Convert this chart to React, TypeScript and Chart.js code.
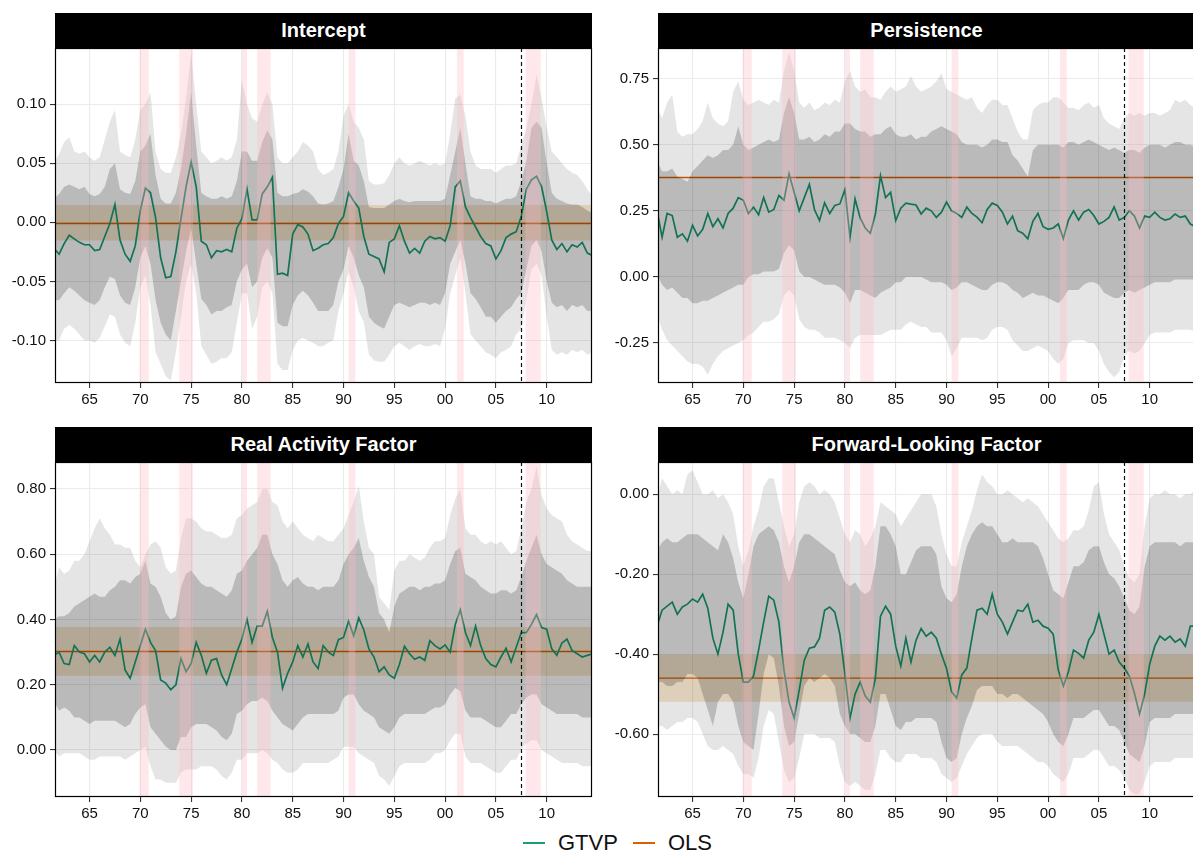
import React, { useEffect, useRef } from "react";
import { Chart, registerables } from "chart.js";
Chart.register(...registerables);

const FONT = "'Liberation Sans', Arial, Helvetica, sans-serif";

// time grid: half-year observations starting 1961.5
const START_YEAR = 1961.5;
const STEP = 0.5;
const X_MIN = 1961.6;
const X_MAX = 2014.46;
const X_TICKS = [1965, 1970, 1975, 1980, 1985, 1990, 1995, 2000, 2005, 2010];
const RECESSIONS: [number, number][] = [
  [1969.92, 1970.83], [1973.83, 1975.17], [1980.0, 1980.5], [1981.5, 1982.83],
  [1990.5, 1991.17], [2001.17, 2001.83], [2007.92, 2009.42],
];
const BREAK_YEAR = 2007.5;

// ---------------- Intercept ----------------
const interceptGtvp = [
  -0.022, -0.027, -0.018, -0.011, -0.014, -0.017, -0.019, -0.019, -0.024, -0.023,
  -0.012, -0.001, 0.015, -0.015, -0.027, -0.033, -0.020, 0.010, 0.029, 0.025,
  0.004, -0.030, -0.047, -0.046, -0.025, 0.003, 0.030, 0.051, 0.030, -0.016,
  -0.019, -0.030, -0.024, -0.025, -0.023, -0.025, -0.005, 0.003, 0.028, 0.002,
  0.002, 0.024, 0.030, 0.038, -0.044, -0.043, -0.045, -0.010, -0.002, -0.004,
  -0.010, -0.024, -0.022, -0.019, -0.018, -0.013, -0.001, 0.005, 0.025, 0.018,
  0.012, -0.012, -0.027, -0.029, -0.031, -0.042, -0.017, -0.014, -0.003, -0.016,
  -0.026, -0.022, -0.026, -0.016, -0.012, -0.014, -0.013, -0.016, -0.003, 0.030,
  0.035, 0.013, 0.004, -0.004, -0.012, -0.018, -0.020, -0.031, -0.024, -0.013,
  -0.010, -0.008, 0.005, 0.028, 0.036, 0.039, 0.030, 0.009, -0.015, -0.023,
  -0.018, -0.025, -0.019, -0.021, -0.017, -0.026, -0.028,
];
const interceptOuterHi = [
  0.050, 0.058, 0.068, 0.072, 0.060, 0.058, 0.060, 0.055, 0.052, 0.055,
  0.070, 0.085, 0.095, 0.060, 0.057, 0.055, 0.070, 0.095, 0.100, 0.110,
  0.060, 0.045, 0.042, 0.042, 0.055, 0.075, 0.105, 0.143, 0.100, 0.060,
  0.055, 0.050, 0.052, 0.055, 0.052, 0.055, 0.070, 0.120, 0.100, 0.088,
  0.085, 0.100, 0.110, 0.100, 0.055, 0.050, 0.050, 0.055, 0.060, 0.068,
  0.065, 0.060, 0.045, 0.040, 0.042, 0.045, 0.060, 0.090, 0.100, 0.085,
  0.080, 0.070, 0.035, 0.032, 0.032, 0.033, 0.040, 0.050, 0.055, 0.050,
  0.048, 0.050, 0.052, 0.050, 0.048, 0.050, 0.048, 0.050, 0.075, 0.105,
  0.108, 0.090, 0.060, 0.048, 0.045, 0.045, 0.045, 0.042, 0.045, 0.048,
  0.048, 0.050, 0.065, 0.080, 0.100, 0.125, 0.105, 0.080, 0.060, 0.055,
  0.050, 0.045, 0.042, 0.040, 0.035, 0.028, 0.022,
];
const interceptInnerHi = [
  0.020, 0.024, 0.030, 0.032, 0.030, 0.028, 0.030, 0.024, 0.022, 0.024,
  0.030, 0.045, 0.050, 0.028, 0.025, 0.024, 0.035, 0.060, 0.065, 0.075,
  0.040, 0.020, 0.016, 0.016, 0.025, 0.045, 0.075, 0.110, 0.065, 0.025,
  0.022, 0.020, 0.020, 0.022, 0.020, 0.022, 0.035, 0.060, 0.060, 0.052,
  0.052, 0.068, 0.078, 0.070, 0.025, 0.022, 0.022, 0.024, 0.025, 0.028,
  0.026, 0.022, 0.016, 0.015, 0.016, 0.018, 0.030, 0.045, 0.075, 0.052,
  0.048, 0.035, 0.013, 0.012, 0.012, 0.012, 0.015, 0.018, 0.020, 0.018,
  0.017, 0.018, 0.018, 0.018, 0.018, 0.018, 0.018, 0.020, 0.040, 0.060,
  0.080, 0.050, 0.022, 0.020, 0.020, 0.018, 0.018, 0.016, 0.018, 0.020,
  0.020, 0.022, 0.035, 0.052, 0.080, 0.085, 0.080, 0.050, 0.025, 0.020,
  0.018, 0.016, 0.015, 0.015, 0.013, 0.010, 0.008,
];
const interceptInnerLo = [
  -0.066, -0.066, -0.060, -0.055, -0.058, -0.062, -0.066, -0.068, -0.070, -0.066,
  -0.055, -0.046, -0.048, -0.062, -0.068, -0.070, -0.055, -0.030, -0.020, -0.035,
  -0.066, -0.085, -0.095, -0.100, -0.075, -0.050, -0.025, -0.005, -0.035, -0.065,
  -0.070, -0.078, -0.075, -0.075, -0.072, -0.070, -0.050, -0.040, -0.035, -0.055,
  -0.050, -0.030, -0.022, -0.030, -0.085, -0.088, -0.088, -0.070, -0.062, -0.058,
  -0.062, -0.068, -0.075, -0.075, -0.075, -0.070, -0.050, -0.040, -0.020, -0.030,
  -0.045, -0.055, -0.080, -0.085, -0.088, -0.090, -0.080, -0.070, -0.068, -0.070,
  -0.072, -0.070, -0.068, -0.068, -0.070, -0.068, -0.070, -0.060, -0.035, -0.025,
  -0.015, -0.035, -0.060, -0.065, -0.072, -0.080, -0.080, -0.085, -0.080, -0.075,
  -0.072, -0.065, -0.060, -0.040, -0.020, -0.015, -0.025, -0.050, -0.068, -0.072,
  -0.070, -0.075, -0.070, -0.072, -0.070, -0.075, -0.075,
];
const interceptOuterLo = [
  -0.100, -0.100, -0.090, -0.087, -0.090, -0.095, -0.100, -0.100, -0.102, -0.098,
  -0.088, -0.078, -0.080, -0.095, -0.102, -0.105, -0.085, -0.055, -0.045, -0.070,
  -0.110, -0.120, -0.130, -0.134, -0.110, -0.080, -0.050, -0.035, -0.060, -0.105,
  -0.112, -0.120, -0.118, -0.115, -0.115, -0.110, -0.085, -0.060, -0.060, -0.090,
  -0.080, -0.055, -0.050, -0.060, -0.120, -0.125, -0.125, -0.108, -0.100, -0.098,
  -0.100, -0.102, -0.105, -0.105, -0.102, -0.100, -0.075, -0.060, -0.042, -0.055,
  -0.075, -0.085, -0.112, -0.117, -0.118, -0.118, -0.112, -0.105, -0.102, -0.105,
  -0.108, -0.105, -0.103, -0.105, -0.105, -0.103, -0.105, -0.090, -0.060, -0.045,
  -0.030, -0.060, -0.095, -0.100, -0.105, -0.110, -0.112, -0.115, -0.110, -0.108,
  -0.105, -0.095, -0.090, -0.065, -0.040, -0.035, -0.045, -0.080, -0.108, -0.112,
  -0.110, -0.112, -0.108, -0.110, -0.108, -0.112, -0.110,
];
const interceptOls = -0.001;
const interceptOlsLo = -0.0155;
const interceptOlsHi = 0.0147;

// ---------------- Persistence ----------------
const persistenceGtvp = [
  0.250, 0.150, 0.240, 0.232, 0.150, 0.163, 0.135, 0.195, 0.155, 0.180,
  0.240, 0.190, 0.220, 0.185, 0.240, 0.260, 0.300, 0.290, 0.240, 0.264,
  0.235, 0.300, 0.245, 0.255, 0.308, 0.290, 0.390, 0.320, 0.250, 0.300,
  0.350, 0.255, 0.213, 0.280, 0.240, 0.270, 0.276, 0.330, 0.150, 0.295,
  0.223, 0.185, 0.165, 0.238, 0.383, 0.300, 0.320, 0.213, 0.260, 0.279,
  0.275, 0.272, 0.238, 0.260, 0.250, 0.225, 0.245, 0.283, 0.250, 0.240,
  0.225, 0.264, 0.240, 0.226, 0.205, 0.255, 0.279, 0.270, 0.245, 0.200,
  0.230, 0.175, 0.165, 0.144, 0.210, 0.240, 0.190, 0.180, 0.185, 0.200,
  0.145, 0.215, 0.250, 0.215, 0.245, 0.255, 0.232, 0.200, 0.210, 0.225,
  0.265, 0.215, 0.225, 0.250, 0.230, 0.185, 0.230, 0.225, 0.245, 0.225,
  0.215, 0.220, 0.238, 0.225, 0.230, 0.200, 0.190,
];
const persistenceOuterHi = [
  0.64, 0.60, 0.66, 0.69, 0.55, 0.53, 0.54, 0.54, 0.56, 0.59,
  0.66, 0.60, 0.58, 0.57, 0.59, 0.70, 0.74, 0.67, 0.65, 0.66,
  0.67, 0.66, 0.65, 0.67, 0.66, 0.78, 0.85, 0.78, 0.66, 0.64,
  0.66, 0.63, 0.64, 0.66, 0.65, 0.67, 0.66, 0.74, 0.78, 0.72,
  0.70, 0.71, 0.68, 0.68, 0.67, 0.70, 0.72, 0.70, 0.71, 0.72,
  0.76, 0.72, 0.70, 0.71, 0.72, 0.74, 0.77, 0.71, 0.70, 0.69,
  0.68, 0.67, 0.68, 0.64, 0.62, 0.65, 0.67, 0.67, 0.65, 0.65,
  0.60, 0.55, 0.52, 0.52, 0.63, 0.65, 0.66, 0.66, 0.68, 0.68,
  0.66, 0.64, 0.64, 0.63, 0.65, 0.66, 0.64, 0.65, 0.60, 0.58,
  0.57, 0.56, 0.60, 0.62, 0.61, 0.62, 0.61, 0.62, 0.62, 0.61,
  0.62, 0.63, 0.67, 0.66, 0.67, 0.65, 0.64,
];
const persistenceInnerHi = [
  0.44, 0.40, 0.40, 0.41, 0.38, 0.37, 0.36, 0.40, 0.42, 0.44,
  0.46, 0.45, 0.46, 0.48, 0.48, 0.50, 0.57, 0.50, 0.48, 0.49,
  0.50, 0.51, 0.52, 0.51, 0.52, 0.62, 0.68, 0.62, 0.52, 0.52,
  0.53, 0.51, 0.52, 0.54, 0.53, 0.55, 0.55, 0.58, 0.58, 0.56,
  0.55, 0.55, 0.53, 0.54, 0.54, 0.56, 0.57, 0.54, 0.53, 0.53,
  0.54, 0.52, 0.53, 0.53, 0.55, 0.56, 0.57, 0.56, 0.55, 0.54,
  0.51, 0.50, 0.50, 0.50, 0.49, 0.50, 0.52, 0.52, 0.51, 0.51,
  0.46, 0.44, 0.41, 0.38, 0.48, 0.50, 0.50, 0.50, 0.50, 0.50,
  0.49, 0.51, 0.51, 0.50, 0.51, 0.52, 0.51, 0.50, 0.49, 0.48,
  0.49, 0.48, 0.47, 0.48, 0.48, 0.47, 0.49, 0.50, 0.50, 0.50,
  0.49, 0.50, 0.51, 0.51, 0.50, 0.50, 0.49,
];
const persistenceInnerLo = [
  0.01, -0.03, -0.05, -0.04, -0.06, -0.08, -0.08, -0.10, -0.10, -0.09,
  -0.09, -0.08, -0.07, -0.06, -0.05, -0.04, -0.03, -0.03, 0.00, 0.01,
  0.01, 0.02, 0.02, 0.02, 0.03, 0.09, 0.12, 0.10, 0.02, 0.00,
  0.00, -0.01, -0.02, -0.03, -0.03, -0.03, -0.04, -0.06, -0.10, -0.05,
  -0.05, -0.06, -0.07, -0.08, -0.06, -0.05, -0.04, -0.02, -0.02, 0.00,
  0.00, 0.00, 0.00, -0.01, -0.02, -0.02, -0.02, -0.03, -0.05, -0.04,
  -0.02, -0.02, -0.03, -0.04, -0.05, -0.05, -0.03, -0.02, -0.02, -0.03,
  -0.05, -0.06, -0.08, -0.07, -0.06, -0.07, -0.07, -0.08, -0.09, -0.10,
  -0.08, -0.05, -0.05, -0.05, -0.03, -0.02, -0.02, -0.03, -0.06, -0.07,
  -0.08, -0.08, -0.06, -0.05, -0.06, -0.05, -0.04, -0.03, -0.02, -0.02,
  -0.02, -0.02, -0.01, -0.01, -0.01, -0.01, -0.01,
];
const persistenceOuterLo = [
  -0.14, -0.20, -0.24, -0.26, -0.28, -0.30, -0.32, -0.33, -0.33, -0.34,
  -0.37, -0.33, -0.30, -0.28, -0.27, -0.26, -0.25, -0.24, -0.22, -0.21,
  -0.19, -0.17, -0.17, -0.16, -0.14, -0.07, -0.05, -0.07, -0.16, -0.19,
  -0.20, -0.20, -0.21, -0.23, -0.23, -0.23, -0.24, -0.25, -0.27, -0.23,
  -0.22, -0.22, -0.22, -0.22, -0.22, -0.21, -0.20, -0.20, -0.20, -0.18,
  -0.17, -0.18, -0.19, -0.19, -0.21, -0.21, -0.21, -0.24, -0.30, -0.27,
  -0.23, -0.23, -0.23, -0.23, -0.24, -0.23, -0.20, -0.19, -0.19, -0.20,
  -0.24, -0.26, -0.28, -0.28, -0.27, -0.26, -0.27, -0.28, -0.31, -0.33,
  -0.31, -0.25, -0.24, -0.24, -0.24, -0.25, -0.25, -0.28, -0.33, -0.36,
  -0.38, -0.36, -0.30, -0.28, -0.29, -0.28, -0.25, -0.22, -0.21, -0.21,
  -0.21, -0.21, -0.20, -0.20, -0.20, -0.20, -0.21,
];
const persistenceOls = 0.376;

// ---------------- Real Activity Factor ----------------
const realGtvp = [
  0.290, 0.300, 0.265, 0.262, 0.320, 0.300, 0.295, 0.270, 0.290, 0.270,
  0.300, 0.315, 0.290, 0.340, 0.245, 0.220, 0.270, 0.320, 0.370, 0.330,
  0.305, 0.215, 0.205, 0.185, 0.200, 0.280, 0.240, 0.265, 0.330, 0.290,
  0.235, 0.275, 0.280, 0.230, 0.200, 0.250, 0.300, 0.340, 0.400, 0.330,
  0.380, 0.380, 0.425, 0.345, 0.300, 0.190, 0.235, 0.270, 0.320, 0.285,
  0.325, 0.270, 0.250, 0.320, 0.300, 0.290, 0.338, 0.345, 0.395, 0.350,
  0.405, 0.368, 0.310, 0.285, 0.240, 0.255, 0.230, 0.220, 0.262, 0.318,
  0.295, 0.278, 0.285, 0.275, 0.335, 0.320, 0.310, 0.322, 0.300, 0.385,
  0.430, 0.360, 0.320, 0.380, 0.320, 0.280, 0.262, 0.255, 0.285, 0.312,
  0.270, 0.315, 0.360, 0.360, 0.385, 0.415, 0.375, 0.370, 0.310, 0.290,
  0.328, 0.340, 0.305, 0.295, 0.285, 0.290, 0.295,
];
const realOuterHi = [
  0.50, 0.56, 0.54, 0.55, 0.58, 0.58, 0.60, 0.64, 0.68, 0.71,
  0.68, 0.66, 0.63, 0.63, 0.62, 0.62, 0.58, 0.56, 0.60, 0.63,
  0.64, 0.62, 0.56, 0.54, 0.55, 0.65, 0.71, 0.71, 0.70, 0.68,
  0.67, 0.67, 0.66, 0.65, 0.65, 0.66, 0.71, 0.72, 0.74, 0.75,
  0.76, 0.80, 0.80, 0.76, 0.75, 0.70, 0.68, 0.70, 0.68, 0.66,
  0.65, 0.64, 0.66, 0.65, 0.64, 0.64, 0.66, 0.68, 0.72, 0.76,
  0.81, 0.70, 0.62, 0.60, 0.47, 0.45, 0.43, 0.55, 0.58, 0.58,
  0.60, 0.59, 0.58, 0.59, 0.62, 0.64, 0.64, 0.65, 0.72, 0.77,
  0.80, 0.68, 0.66, 0.66, 0.64, 0.63, 0.64, 0.63, 0.64, 0.62,
  0.60, 0.61, 0.68, 0.76, 0.80, 0.87, 0.78, 0.74, 0.72, 0.71,
  0.70, 0.66, 0.64, 0.63, 0.62, 0.61, 0.61,
];
const realInnerHi = [
  0.40, 0.41, 0.41, 0.42, 0.44, 0.45, 0.46, 0.47, 0.48, 0.47,
  0.47, 0.49, 0.50, 0.52, 0.52, 0.51, 0.53, 0.54, 0.58, 0.51,
  0.50, 0.47, 0.42, 0.40, 0.41, 0.50, 0.54, 0.55, 0.53, 0.51,
  0.50, 0.50, 0.49, 0.48, 0.47, 0.49, 0.54, 0.55, 0.58, 0.60,
  0.62, 0.66, 0.66, 0.60, 0.57, 0.52, 0.50, 0.52, 0.53, 0.51,
  0.50, 0.50, 0.49, 0.50, 0.50, 0.50, 0.52, 0.57, 0.60, 0.62,
  0.65, 0.58, 0.53, 0.50, 0.42, 0.40, 0.36, 0.44, 0.48, 0.49,
  0.50, 0.50, 0.49, 0.50, 0.50, 0.51, 0.51, 0.52, 0.57, 0.61,
  0.62, 0.54, 0.53, 0.52, 0.50, 0.49, 0.48, 0.48, 0.49, 0.49,
  0.48, 0.49, 0.53, 0.58, 0.62, 0.66, 0.60, 0.57, 0.56, 0.55,
  0.54, 0.52, 0.51, 0.50, 0.50, 0.50, 0.50,
];
const realInnerLo = [
  0.15, 0.12, 0.13, 0.12, 0.10, 0.10, 0.09, 0.08, 0.09, 0.09,
  0.09, 0.09, 0.09, 0.08, 0.07, 0.08, 0.11, 0.13, 0.14, 0.07,
  0.05, 0.03, 0.01, 0.00, 0.00, 0.04, 0.04, 0.07, 0.08, 0.08,
  0.08, 0.07, 0.06, 0.04, 0.03, 0.05, 0.11, 0.12, 0.14, 0.15,
  0.15, 0.16, 0.15, 0.12, 0.10, 0.08, 0.07, 0.06, 0.08, 0.10,
  0.11, 0.11, 0.11, 0.11, 0.11, 0.11, 0.12, 0.16, 0.17, 0.17,
  0.14, 0.12, 0.11, 0.10, 0.07, 0.06, 0.05, 0.07, 0.10, 0.11,
  0.11, 0.11, 0.11, 0.11, 0.12, 0.13, 0.13, 0.14, 0.17, 0.19,
  0.18, 0.12, 0.10, 0.10, 0.10, 0.09, 0.08, 0.07, 0.07, 0.09,
  0.11, 0.11, 0.14, 0.16, 0.17, 0.17, 0.14, 0.13, 0.12, 0.11,
  0.11, 0.11, 0.11, 0.11, 0.10, 0.10, 0.10,
];
const realOuterLo = [
  0.00, -0.02, -0.01, -0.01, -0.01, -0.01, -0.02, -0.03, -0.03, -0.02,
  -0.02, -0.02, -0.02, -0.02, -0.03, -0.02, -0.01, 0.00, 0.01, -0.05,
  -0.09, -0.09, -0.10, -0.10, -0.10, -0.07, -0.06, -0.06, -0.06, -0.05,
  -0.05, -0.05, -0.06, -0.08, -0.09, -0.07, -0.03, -0.03, -0.01, -0.01,
  -0.01, 0.00, -0.01, -0.03, -0.04, -0.06, -0.07, -0.07, -0.06, -0.04,
  -0.04, -0.04, -0.04, -0.04, -0.04, -0.03, -0.02, 0.01, 0.01, 0.01,
  -0.01, -0.02, -0.03, -0.04, -0.08, -0.09, -0.11, -0.08, -0.05, -0.04,
  -0.04, -0.04, -0.04, -0.04, -0.03, -0.01, -0.01, 0.00, 0.03, 0.05,
  0.05, -0.02, -0.04, -0.04, -0.04, -0.05, -0.06, -0.07, -0.07, -0.05,
  -0.03, -0.03, 0.00, 0.02, 0.03, 0.03, 0.00, -0.01, -0.02, -0.03,
  -0.04, -0.04, -0.04, -0.04, -0.05, -0.05, -0.05,
];
const realOls = 0.302;
const realOlsLo = 0.2276;
const realOlsHi = 0.377;

// ---------------- Forward-Looking Factor ----------------
const forwardGtvp = [
  -0.330, -0.290, -0.280, -0.270, -0.300, -0.282, -0.275, -0.262, -0.270, -0.250,
  -0.285, -0.360, -0.400, -0.345, -0.275, -0.290, -0.400, -0.470, -0.470, -0.455,
  -0.390, -0.320, -0.255, -0.265, -0.320, -0.440, -0.520, -0.560, -0.490, -0.415,
  -0.385, -0.382, -0.360, -0.290, -0.282, -0.295, -0.350, -0.450, -0.560, -0.500,
  -0.470, -0.505, -0.520, -0.460, -0.305, -0.280, -0.300, -0.380, -0.430, -0.360,
  -0.420, -0.365, -0.336, -0.355, -0.345, -0.360, -0.400, -0.436, -0.494, -0.510,
  -0.452, -0.435, -0.360, -0.290, -0.285, -0.300, -0.250, -0.300, -0.320, -0.350,
  -0.320, -0.290, -0.293, -0.275, -0.320, -0.315, -0.330, -0.335, -0.350, -0.440,
  -0.480, -0.444, -0.390, -0.398, -0.410, -0.365, -0.345, -0.300, -0.350, -0.400,
  -0.390, -0.420, -0.435, -0.455, -0.498, -0.550, -0.500, -0.425, -0.380, -0.355,
  -0.365, -0.355, -0.370, -0.362, -0.380, -0.330, -0.330,
];
const forwardOuterHi = [
  -0.01, 0.04, 0.02, 0.00, 0.01, 0.00, 0.05, 0.06, 0.03, 0.00,
  0.00, 0.01, -0.01, 0.00, -0.02, -0.05, -0.13, -0.18, -0.14, -0.08,
  -0.04, 0.02, 0.04, 0.04, -0.02, -0.08, -0.13, -0.10, -0.02, 0.02,
  0.03, 0.02, 0.00, 0.01, 0.00, -0.02, -0.06, -0.10, -0.12, -0.09,
  -0.10, -0.13, -0.11, -0.08, -0.02, -0.03, -0.04, -0.05, -0.08, -0.06,
  -0.04, -0.02, 0.00, 0.00, 0.00, -0.03, -0.10, -0.15, -0.18, -0.18,
  -0.12, -0.08, -0.04, 0.01, 0.05, 0.03, 0.02, 0.00, 0.00, 0.01,
  0.00, -0.01, -0.02, -0.01, -0.02, -0.03, -0.05, -0.07, -0.09, -0.11,
  -0.12, -0.11, -0.09, -0.09, -0.08, -0.04, 0.02, 0.03, -0.05, -0.10,
  -0.12, -0.14, -0.18, -0.21, -0.22, -0.20, -0.08, -0.01, 0.00, 0.00,
  0.01, 0.00, 0.00, -0.01, 0.00, 0.00, 0.01,
];
const forwardInnerHi = [
  -0.14, -0.12, -0.11, -0.12, -0.12, -0.11, -0.10, -0.10, -0.10, -0.11,
  -0.12, -0.13, -0.14, -0.10, -0.12, -0.16, -0.22, -0.26, -0.20, -0.13,
  -0.10, -0.09, -0.08, -0.09, -0.12, -0.18, -0.22, -0.18, -0.12, -0.10,
  -0.10, -0.11, -0.12, -0.13, -0.14, -0.15, -0.19, -0.22, -0.23, -0.22,
  -0.24, -0.25, -0.24, -0.18, -0.08, -0.08, -0.10, -0.13, -0.20, -0.20,
  -0.17, -0.14, -0.13, -0.13, -0.13, -0.15, -0.23, -0.26, -0.27, -0.25,
  -0.18, -0.13, -0.10, -0.08, -0.07, -0.08, -0.08, -0.10, -0.12, -0.12,
  -0.11, -0.12, -0.12, -0.12, -0.12, -0.13, -0.16, -0.20, -0.24, -0.25,
  -0.26, -0.22, -0.18, -0.18, -0.17, -0.14, -0.13, -0.13, -0.17, -0.20,
  -0.21, -0.23, -0.26, -0.29, -0.30, -0.28, -0.18, -0.13, -0.12, -0.12,
  -0.12, -0.12, -0.12, -0.13, -0.12, -0.12, -0.12,
];
const forwardInnerLo = [
  -0.47, -0.47, -0.48, -0.48, -0.47, -0.47, -0.45, -0.45, -0.46, -0.50,
  -0.54, -0.58, -0.52, -0.50, -0.50, -0.52, -0.58, -0.62, -0.63, -0.64,
  -0.55, -0.45, -0.40, -0.41, -0.48, -0.58, -0.63, -0.62, -0.55, -0.48,
  -0.46, -0.47, -0.46, -0.45, -0.46, -0.48, -0.55, -0.58, -0.60, -0.60,
  -0.61, -0.62, -0.62, -0.58, -0.50, -0.50, -0.54, -0.58, -0.59, -0.57,
  -0.57, -0.56, -0.56, -0.56, -0.56, -0.57, -0.62, -0.66, -0.67, -0.66,
  -0.60, -0.56, -0.53, -0.49, -0.48, -0.48, -0.48, -0.50, -0.50, -0.51,
  -0.50, -0.50, -0.51, -0.52, -0.53, -0.54, -0.55, -0.57, -0.60, -0.62,
  -0.63, -0.60, -0.56, -0.56, -0.56, -0.55, -0.54, -0.54, -0.56, -0.58,
  -0.58, -0.59, -0.62, -0.65, -0.66, -0.67, -0.63, -0.57, -0.56, -0.56,
  -0.56, -0.56, -0.55, -0.55, -0.55, -0.55, -0.55,
];
const forwardOuterLo = [
  -0.58, -0.58, -0.59, -0.58, -0.57, -0.57, -0.56, -0.56, -0.57, -0.60,
  -0.63, -0.64, -0.64, -0.63, -0.64, -0.65, -0.68, -0.70, -0.70, -0.71,
  -0.66, -0.58, -0.54, -0.55, -0.62, -0.69, -0.72, -0.71, -0.66, -0.60,
  -0.60, -0.60, -0.61, -0.61, -0.61, -0.62, -0.68, -0.72, -0.73, -0.72,
  -0.73, -0.74, -0.74, -0.70, -0.64, -0.64, -0.66, -0.67, -0.67, -0.65,
  -0.65, -0.65, -0.66, -0.66, -0.66, -0.67, -0.70, -0.71, -0.72, -0.71,
  -0.68, -0.65, -0.63, -0.61, -0.60, -0.60, -0.60, -0.62, -0.63, -0.63,
  -0.63, -0.63, -0.64, -0.65, -0.66, -0.67, -0.67, -0.68, -0.70, -0.71,
  -0.72, -0.70, -0.66, -0.66, -0.66, -0.65, -0.64, -0.64, -0.66, -0.68,
  -0.68, -0.69, -0.71, -0.74, -0.75, -0.75, -0.72, -0.68, -0.67, -0.67,
  -0.67, -0.67, -0.66, -0.66, -0.66, -0.66, -0.66,
];
const forwardOls = -0.46;
const forwardOlsLo = -0.519;
const forwardOlsHi = -0.4017;

type PanelCfg = {
  title: string;
  gtvp: number[];
  outerHi: number[];
  innerHi: number[];
  innerLo: number[];
  outerLo: number[];
  ols: number;
  olsLo: number | null;
  olsHi: number | null;
  yMin: number;
  yMax: number;
  yTicks: number[];
  left: number;
  top: number;
};

const PANELS: PanelCfg[] = [
  {
    title: "Intercept", gtvp: interceptGtvp, outerHi: interceptOuterHi, innerHi: interceptInnerHi,
    innerLo: interceptInnerLo, outerLo: interceptOuterLo, ols: interceptOls, olsLo: interceptOlsLo,
    olsHi: interceptOlsHi, yMin: -0.136, yMax: 0.1475, yTicks: [-0.1, -0.05, 0, 0.05, 0.1], left: 0, top: 48,
  },
  {
    title: "Persistence", gtvp: persistenceGtvp, outerHi: persistenceOuterHi, innerHi: persistenceInnerHi,
    innerLo: persistenceInnerLo, outerLo: persistenceOuterLo, ols: persistenceOls, olsLo: null,
    olsHi: null, yMin: -0.4015, yMax: 0.866, yTicks: [-0.25, 0, 0.25, 0.5, 0.75], left: 603, top: 48,
  },
  {
    title: "Real Activity Factor", gtvp: realGtvp, outerHi: realOuterHi, innerHi: realInnerHi,
    innerLo: realInnerLo, outerLo: realOuterLo, ols: realOls, olsLo: realOlsLo,
    olsHi: realOlsHi, yMin: -0.144, yMax: 0.8827, yTicks: [0, 0.2, 0.4, 0.6, 0.8], left: 0, top: 462,
  },
  {
    title: "Forward-Looking Factor", gtvp: forwardGtvp, outerHi: forwardOuterHi, innerHi: forwardInnerHi,
    innerLo: forwardInnerLo, outerLo: forwardOuterLo, ols: forwardOls, olsLo: forwardOlsLo,
    olsHi: forwardOlsHi, yMin: -0.7575, yMax: 0.0808, yTicks: [-0.6, -0.4, -0.2, 0], left: 603, top: 462,
  },
];

const CANVAS_W = 593;
const CANVAS_H = 365;
const Y_AXIS_W = 55;
const X_AXIS_H = 30;
const GTVP_COLOR = "#1b9e77";
const OLS_COLOR = "#d95f02";

const overlayPlugin = {
  id: "overlay",
  afterDatasetsDraw(chart: any) {
    const { ctx, chartArea } = chart;
    const { left, right, top, bottom } = chartArea;
    const xs = chart.scales.x;
    ctx.save();
    ctx.beginPath();
    ctx.rect(left, top, right - left, bottom - top);
    ctx.clip();
    ctx.fillStyle = "rgba(255,182,193,0.32)";
    RECESSIONS.forEach(([s, e]) => {
      const x1 = xs.getPixelForValue(s);
      const x2 = xs.getPixelForValue(e);
      ctx.fillRect(x1, top, x2 - x1, bottom - top);
    });
    const bx = Math.round(xs.getPixelForValue(BREAK_YEAR)) + 0.5;
    ctx.setLineDash([4, 3]);
    ctx.strokeStyle = "#111";
    ctx.lineWidth = 1.2;
    ctx.beginPath();
    ctx.moveTo(bx, top);
    ctx.lineTo(bx, bottom);
    ctx.stroke();
    ctx.restore();
    ctx.save();
    ctx.strokeStyle = "#000";
    ctx.lineWidth = 1.2;
    ctx.strokeRect(left + 0.5, top + 0.5, right - left - 1, bottom - top - 1);
    ctx.restore();
  },
};

function Panel({ cfg }: { cfg: PanelCfg }) {
  const ref = useRef<HTMLCanvasElement>(null);
  useEffect(() => {
    if (!ref.current) return;
    const toPts = (arr: number[]) => arr.map((v, i) => ({ x: START_YEAR + i * STEP, y: v }));
    const flat = (v: number) => [{ x: X_MIN, y: v }, { x: X_MAX, y: v }];
    const base = { pointRadius: 0, borderWidth: 0, borderColor: "rgba(0,0,0,0)", tension: 0, clip: 0 };
    const hasBand = cfg.olsLo != null && cfg.olsHi != null;
    // drawing order: OLS band, OLS line, GTVP line, then translucent ribbons on top
    const datasets: any[] = [
      { ...base, data: flat(hasBand ? (cfg.olsLo as number) : cfg.ols), fill: false, order: 9 },
      {
        ...base, data: flat(hasBand ? (cfg.olsHi as number) : cfg.ols), fill: 0,
        backgroundColor: hasBand ? "rgba(220,160,60,0.25)" : "rgba(0,0,0,0)", order: 8,
      },
      { ...base, data: flat(cfg.ols), borderColor: OLS_COLOR, borderWidth: 1.3, fill: false, order: 7 },
      { ...base, data: toPts(cfg.gtvp), borderColor: GTVP_COLOR, borderWidth: 1.7, fill: false, order: 6 },
      { ...base, data: toPts(cfg.outerLo), fill: false, order: 5 },
      { ...base, data: toPts(cfg.outerHi), fill: 4, backgroundColor: "rgba(0,0,0,0.10)", order: 4 },
      { ...base, data: toPts(cfg.innerLo), fill: false, order: 3 },
      { ...base, data: toPts(cfg.innerHi), fill: 6, backgroundColor: "rgba(0,0,0,0.19)", order: 2 },
    ];

    const tickFont = { family: FONT, size: 15 };
    const chart = new Chart(ref.current, {
      type: "line",
      data: { datasets },
      options: {
        animation: false,
        responsive: false,
        events: [],
        layout: { padding: { left: 0, right: 1, top: 0, bottom: 0 } },
        plugins: { legend: { display: false }, tooltip: { enabled: false } },
        scales: {
          x: {
            type: "linear",
            min: X_MIN,
            max: X_MAX,
            afterBuildTicks: (s: any) => { s.ticks = X_TICKS.map((v) => ({ value: v })); },
            afterFit: (s: any) => {
              s.height = X_AXIS_H;
              s.paddingLeft = 0; s.paddingRight = 0; s.paddingTop = 0; s.paddingBottom = 0;
            },
            grid: { color: "#ebebeb", lineWidth: 1.1, tickColor: "#333", tickLength: 5, drawTicks: true },
            border: { display: false },
            ticks: {
              color: "#111", font: tickFont, padding: 3, maxRotation: 0, autoSkip: false,
              callback: (v: any) => String(Number(v) % 100).padStart(2, "0"),
            },
          },
          y: {
            type: "linear",
            min: cfg.yMin,
            max: cfg.yMax,
            afterBuildTicks: (s: any) => { s.ticks = cfg.yTicks.map((v) => ({ value: v })); },
            afterFit: (s: any) => {
              s.width = Y_AXIS_W;
              s.paddingLeft = 0; s.paddingRight = 0; s.paddingTop = 0; s.paddingBottom = 0;
            },
            grid: { color: "#ebebeb", lineWidth: 1.1, tickColor: "#333", tickLength: 5, drawTicks: true },
            border: { display: false },
            ticks: {
              color: "#111", font: tickFont, padding: 4, autoSkip: false,
              callback: (v: any) => Number(v).toFixed(2),
            },
          },
        },
      } as any,
      plugins: [overlayPlugin],
    });
    return () => chart.destroy();
  }, [cfg]);

  const plotLeft = cfg.left + Y_AXIS_W;
  const plotWidth = CANVAS_W - Y_AXIS_W - 1;
  return (
    <>
      <div
        style={{
          position: "absolute", left: plotLeft, top: cfg.top - 35, width: plotWidth, height: 35,
          background: "#000", color: "#fff", fontFamily: FONT, fontWeight: "bold", fontSize: 20,
          display: "flex", alignItems: "center", justifyContent: "center",
        }}
      >
        {cfg.title}
      </div>
      <canvas
        ref={ref}
        width={CANVAS_W}
        height={CANVAS_H}
        style={{ position: "absolute", left: cfg.left, top: cfg.top, width: CANVAS_W, height: CANVAS_H, display: "block" }}
      />
    </>
  );
}

export default function App() {
  return (
    <div
      style={{
        position: "absolute", left: 0, top: 0, width: 1193, height: 851, overflow: "hidden",
        background: "#fff", fontFamily: FONT,
      }}
    >
      {PANELS.map((p) => (
        <Panel key={p.title} cfg={p} />
      ))}
      <div
        style={{
          position: "absolute", left: 523, top: 830, height: 26, display: "flex", alignItems: "center",
          fontFamily: FONT, fontSize: 22, color: "#111",
        }}
      >
        <span style={{ display: "inline-block", width: 22, height: 2, background: GTVP_COLOR }} />
        <span style={{ marginLeft: 13 }}>GTVP</span>
        <span style={{ display: "inline-block", width: 22, height: 2, background: OLS_COLOR, marginLeft: 15 }} />
        <span style={{ marginLeft: 13 }}>OLS</span>
      </div>
    </div>
  );
}
